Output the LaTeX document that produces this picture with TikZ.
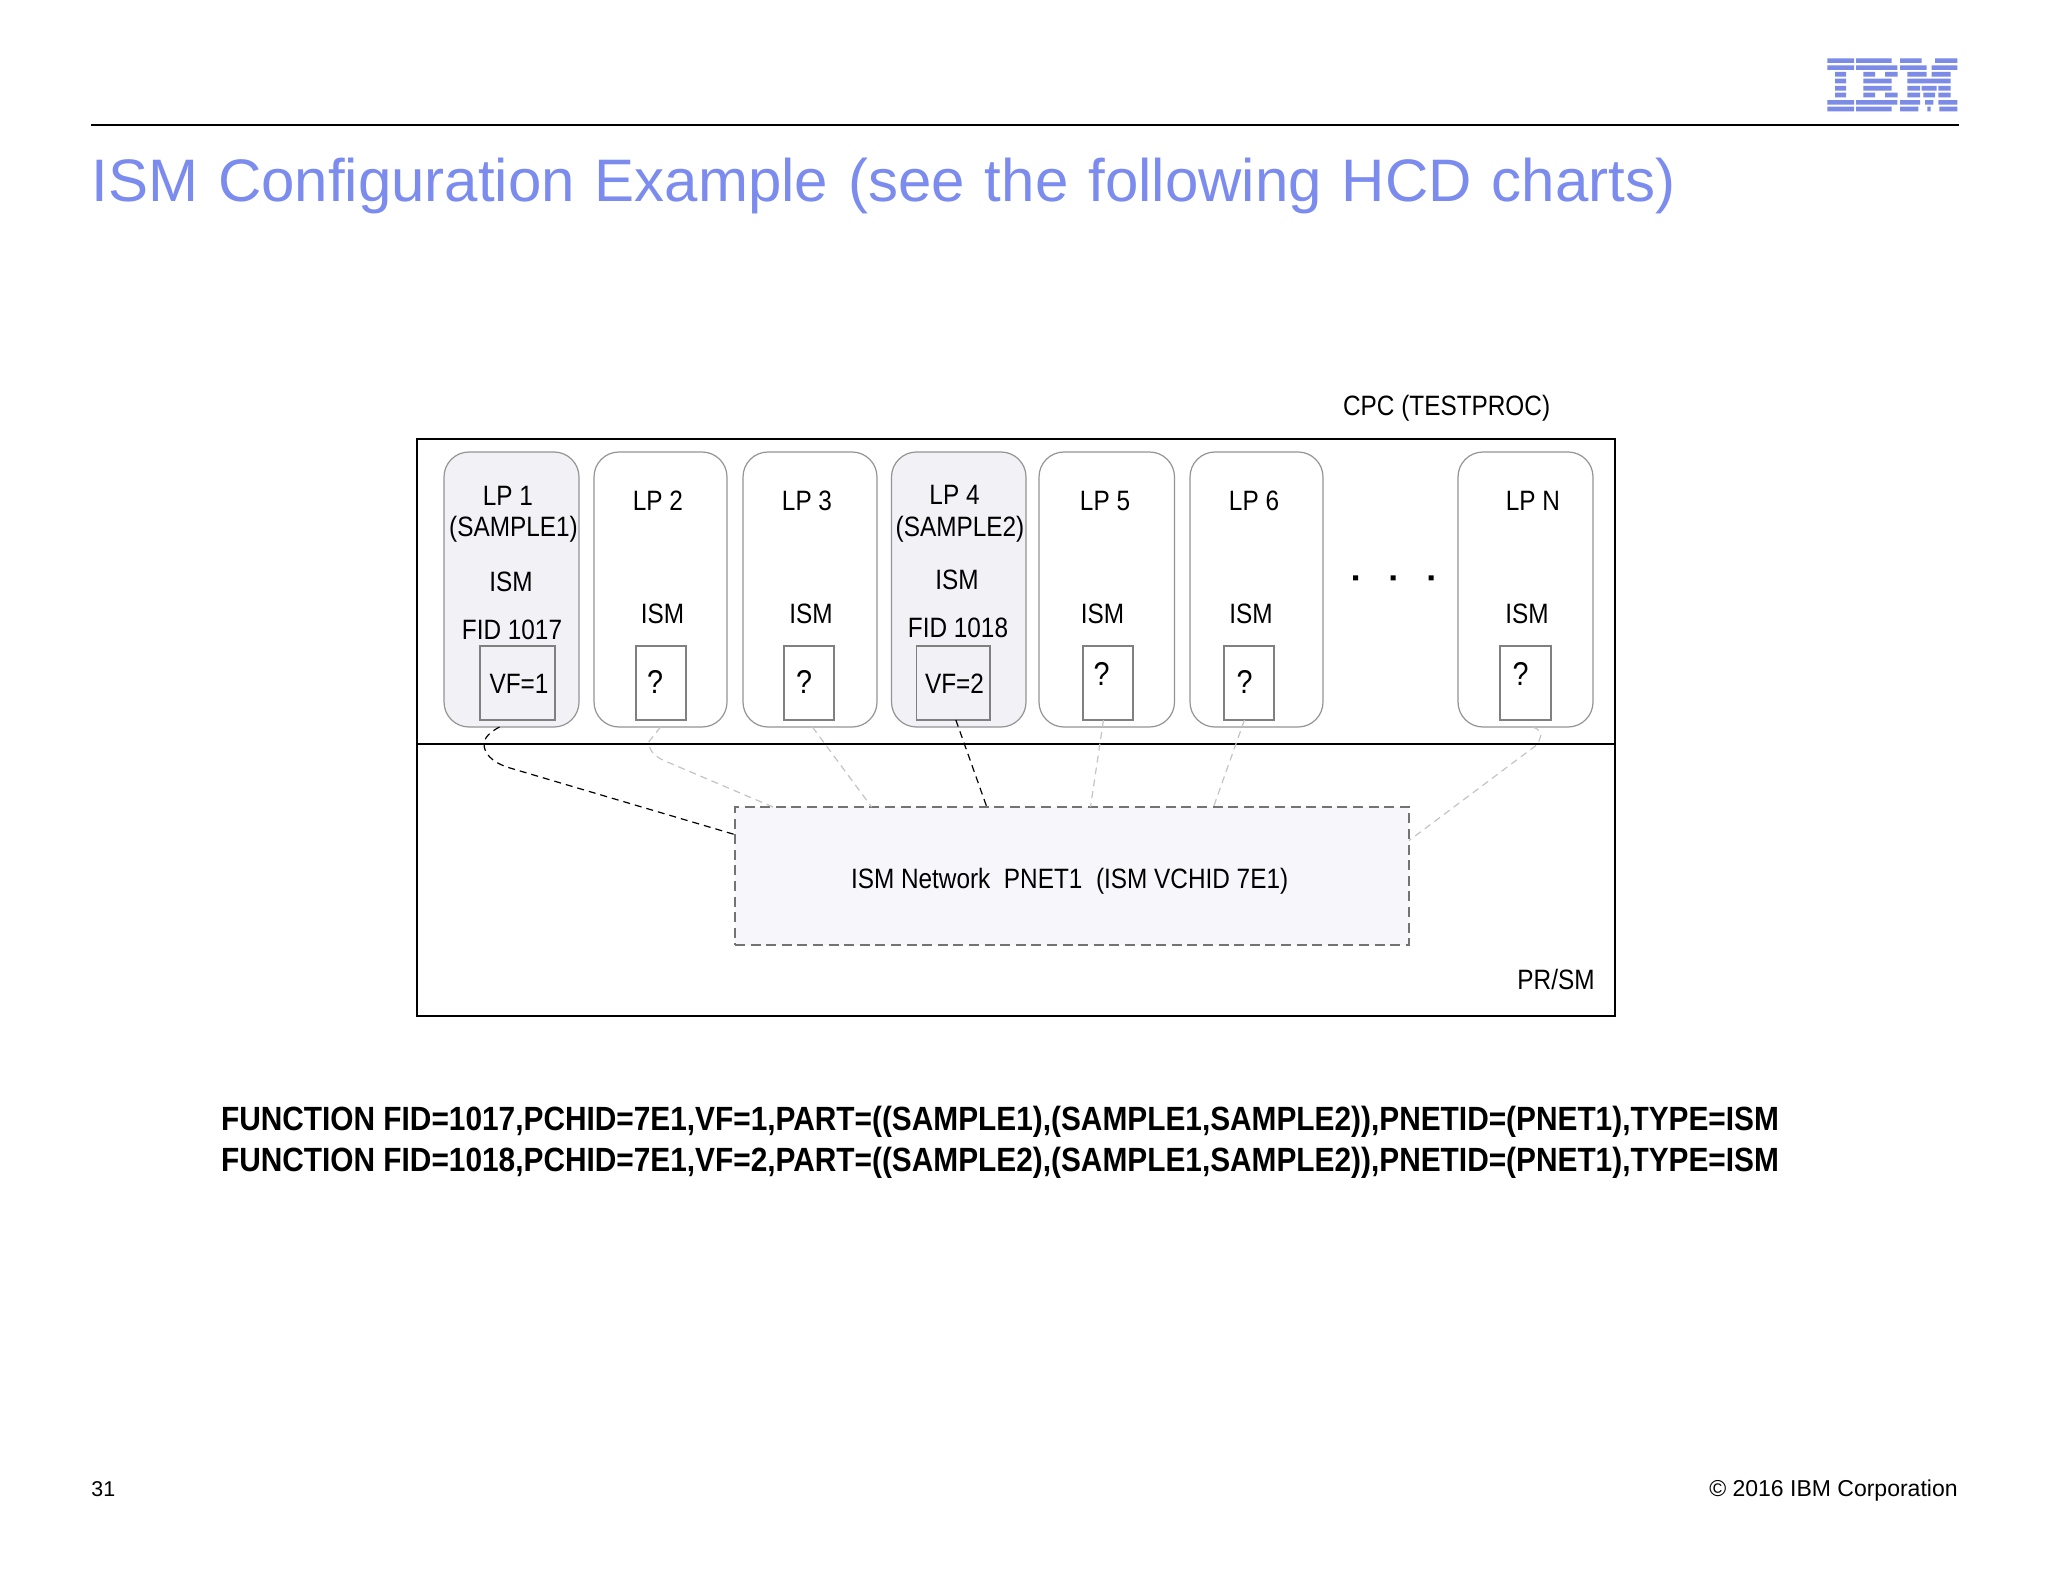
\documentclass[tikz,border=0pt]{standalone}
\usepackage{fontspec}
\setmainfont{Liberation Sans}
\newfontfamily\narrowfont[FakeStretch=0.87]{Liberation Sans}
\newfontfamily\funcfont[FakeStretch=0.888]{Liberation Sans}
\newfontfamily\titlefont[WordSpace=1.2]{Liberation Sans}
\definecolor{titleblue}{HTML}{7B8CEE}
\definecolor{logoblue}{HTML}{7B8BE6}
\definecolor{lpfill}{HTML}{F2F1F5}
\definecolor{netfill}{HTML}{F7F6FA}
\definecolor{lightlink}{HTML}{C4C4C4}
\tikzset{
    region/.style={draw=black,line width=0.6pt,inner sep=0pt,outer sep=0pt,minimum width=599pt},
    lpbox/.style={draw=black!42,line width=0.6pt,rounded corners=12.5pt,inner sep=0pt,outer sep=0pt,minimum height=137.5pt},
    vfbox/.style={draw=black!50,line width=0.8pt,fill=white,inner sep=0pt,outer sep=0pt,minimum height=37pt},
    label/.style={anchor=base,inner sep=0pt,font=\narrowfont\fontsize{14}{16}\selectfont},
    qmark/.style={anchor=base,inner sep=0pt,font=\narrowfont\fontsize{16.5}{18}\selectfont},
    funcline/.style={anchor=base,inner sep=0pt,font=\funcfont\bfseries\fontsize{16.8}{20}\selectfont},
    footer/.style={inner sep=0pt,font=\fontsize{10.7}{13}\selectfont},
    darklink/.style={draw=black,line width=0.6pt,dash pattern=on 3.5pt off 2.5pt},
    greylink/.style={draw=lightlink,line width=0.6pt,dash pattern=on 3.5pt off 2.5pt}
}
\begin{document}
\begin{tikzpicture}[x=0.5pt,y=-0.5pt]
        \useasboundingbox (0,0) rectangle (2048,1582);
        \fill[white] (0,0) rectangle (2048,1582);
        % header
        \coordinate (ruleleft) at (91,125);
        \coordinate (ruleright) at (1959,125);
        \draw[line width=1.2pt] (ruleleft) -- (ruleright);
        \node[anchor=base west,inner sep=0pt,text=titleblue,font=\titlefont\fontsize{30}{34}\selectfont] (title) at (91,201.5) {ISM Configuration Example (see the following HCD charts)};
        \begin{scope}[shift={(1820,50)},x=0.1667pt,y=-0.1667pt]
            \fill[logoblue] (22,25) rectangle (102,39) (108,25) rectangle (215,39) (240,25) rectangle (305,39) (345,25) rectangle (412,39);
            \fill[logoblue] (22,46) rectangle (102,60) (108,46) rectangle (232,60) (240,46) rectangle (320,60) (335,46) rectangle (412,60);
            \fill[logoblue] (45,66) rectangle (78,80) (130,66) rectangle (165,80) (195,66) rectangle (233,80) (262,66) rectangle (320,80) (335,66) rectangle (392,80);
            \fill[logoblue] (45,86) rectangle (78,100) (130,86) rectangle (215,100) (262,86) rectangle (392,100);
            \fill[logoblue] (45,108) rectangle (78,122) (130,108) rectangle (215,122) (262,108) rectangle (300,122) (305,108) rectangle (350,122) (355,108) rectangle (392,122);
            \fill[logoblue] (45,128) rectangle (78,142) (130,128) rectangle (165,142) (195,128) rectangle (233,142) (262,128) rectangle (300,142) (310,128) rectangle (345,142) (355,128) rectangle (392,142);
            \fill[logoblue] (22,150) rectangle (102,164) (108,150) rectangle (232,164) (240,150) rectangle (300,164) (315,150) rectangle (340,164) (355,150) rectangle (412,164);
            \fill[logoblue] (22,170) rectangle (102,184) (108,170) rectangle (215,184) (240,170) rectangle (295,184) (322,170) rectangle (332,184) (358,170) rectangle (412,184);
        \end{scope}
        % regions
        \node[label] (cpclabel) at (1446.6,416) {CPC (TESTPROC)};
        \node[region,minimum height=152.5pt] (cpc) at (1016,591.5) {};
        \node[region,minimum height=136pt] (prsm) at (1016,880) {};
        \node[label,anchor=base east] (prsmlabel) at (1595,989) {PR/SM};
        % partitions
        \node[lpbox,fill=lpfill,minimum width=67.5pt] (lp1) at (511.5,589.5) {};
        \node[lpbox,minimum width=66.5pt] (lp2) at (660.5,589.5) {};
        \node[lpbox,minimum width=67pt] (lp3) at (810,589.5) {};
        \node[lpbox,fill=lpfill,minimum width=67.25pt] (lp4) at (958.75,589.5) {};
        \node[lpbox,minimum width=67.75pt] (lp5) at (1106.75,589.5) {};
        \node[lpbox,minimum width=66.5pt] (lp6) at (1256.5,589.5) {};
        \node[lpbox,minimum width=67.5pt] (lpn) at (1525.5,589.5) {};
        \node[vfbox,fill=lpfill,minimum width=37.5pt] (vf1) at (517.5,683) {};
        \node[vfbox,minimum width=25pt] (vf2) at (661,683) {};
        \node[vfbox,minimum width=25pt] (vf3) at (809,683) {};
        \node[vfbox,fill=lpfill,minimum width=36.75pt] (vf4) at (953.25,683) {};
        \node[vfbox,minimum width=25pt] (vf5) at (1108,683) {};
        \node[vfbox,minimum width=25pt] (vf6) at (1249,683) {};
        \node[vfbox,minimum width=25.5pt] (vfn) at (1525.5,683) {};
        % labels of the partitions
        \node[label] (lp1name) at (508,505.8) {LP 1};
        \node[label] (lp1sys) at (513.5,536.7) {(SAMPLE1)};
        \node[label] (lp1ism) at (511,591.8) {ISM};
        \node[label] (lp1fid) at (512,639.4) {FID 1017};
        \node[label] (vf1text) at (519,693.4) {VF=1};
        \node[label] (lp2name) at (658,510.2) {LP 2};
        \node[label] (lp2ism) at (662.5,623.9) {ISM};
        \node[qmark] (vf2text) at (655,693.4) {?};
        \node[label] (lp3name) at (807,510.2) {LP 3};
        \node[label] (lp3ism) at (811,623.9) {ISM};
        \node[qmark] (vf3text) at (804,693.4) {?};
        \node[label] (lp4name) at (954.5,505) {LP 4};
        \node[label] (lp4sys) at (960,536.7) {(SAMPLE2)};
        \node[label] (lp4ism) at (957,589) {ISM};
        \node[label] (lp4fid) at (958,637.3) {FID 1018};
        \node[label] (vf4text) at (954.5,693.4) {VF=2};
        \node[label] (lp5name) at (1105,510.2) {LP 5};
        \node[label] (lp5ism) at (1102.4,623.9) {ISM};
        \node[qmark] (vf5text) at (1101.6,685.5) {?};
        \node[label] (lp6name) at (1254,510.2) {LP 6};
        \node[label] (lp6ism) at (1251,623.9) {ISM};
        \node[qmark] (vf6text) at (1244.6,693.4) {?};
        \node[label] (lpnname) at (1533,510.2) {LP N};
        \node[label] (lpnism) at (1527,623.9) {ISM};
        \node[qmark] (vfntext) at (1520.7,685.5) {?};
        \fill (1353,575.5) rectangle (1358,580.5) (1390.5,575.5) rectangle (1395.5,580.5) (1428.5,575.5) rectangle (1433.5,580.5);
        % network
        \node[draw=black!55,fill=netfill,line width=0.6pt,dash pattern=on 5pt off 2.8pt,inner sep=0pt,outer sep=0pt,minimum width=337pt,minimum height=69pt] (net) at (1072,876) {};
        \node[label] (netlabel) at (1069.6,888) {ISM Network\ \ PNET1\ \ (ISM VCHID 7E1)};
        % links
        \coordinate (bend1a) at (484,744);
        \coordinate (bend1b) at (510,768);
        \coordinate (bend2a) at (649,741.6);
        \coordinate (bend2b) at (665,761);
        \coordinate (bendna) at (1541,735);
        \coordinate (bendnb) at (1538,744);
        \draw[darklink] (lp1.265.6) .. controls (490,732) and (484,738) .. (bend1a) .. controls (484,752) and (490,762) .. (bend1b) -- (net.173.7);
        \draw[greylink] (lp2.270) -- (bend2a) .. controls (649,748) and (651,755) .. (bend2b) -- (net.167.2);
        \draw[greylink] (lp3.271.25) -- (net.161.2);
        \draw[darklink] (vf4.274.6) -- (net.141.9);
        \draw[greylink] (vf5.263) -- (net.75.3);
        \draw[greylink] (vf6.263) -- (net.26.2);
        \draw[greylink] (lpn.273) .. controls (1538,729) .. (bendna) -- (bendnb) -- (net.6.4);
        % definitions
        \node[funcline] (func1) at (1000,1130.7) {FUNCTION FID=1017,PCHID=7E1,VF=1,PART=((SAMPLE1),(SAMPLE1,SAMPLE2)),PNETID=(PNET1),TYPE=ISM};
        \node[funcline] (func2) at (1000,1171.3) {FUNCTION FID=1018,PCHID=7E1,VF=2,PART=((SAMPLE2),(SAMPLE1,SAMPLE2)),PNETID=(PNET1),TYPE=ISM};
        % footer
        \node[footer,anchor=base west] (pagenum) at (91,1496) {31};
        \node[footer,anchor=base east,font=\fontsize{11.5}{13}\selectfont] (copyright) at (1958,1496) {© 2016 IBM Corporation};
    \end{tikzpicture}
\end{document}
